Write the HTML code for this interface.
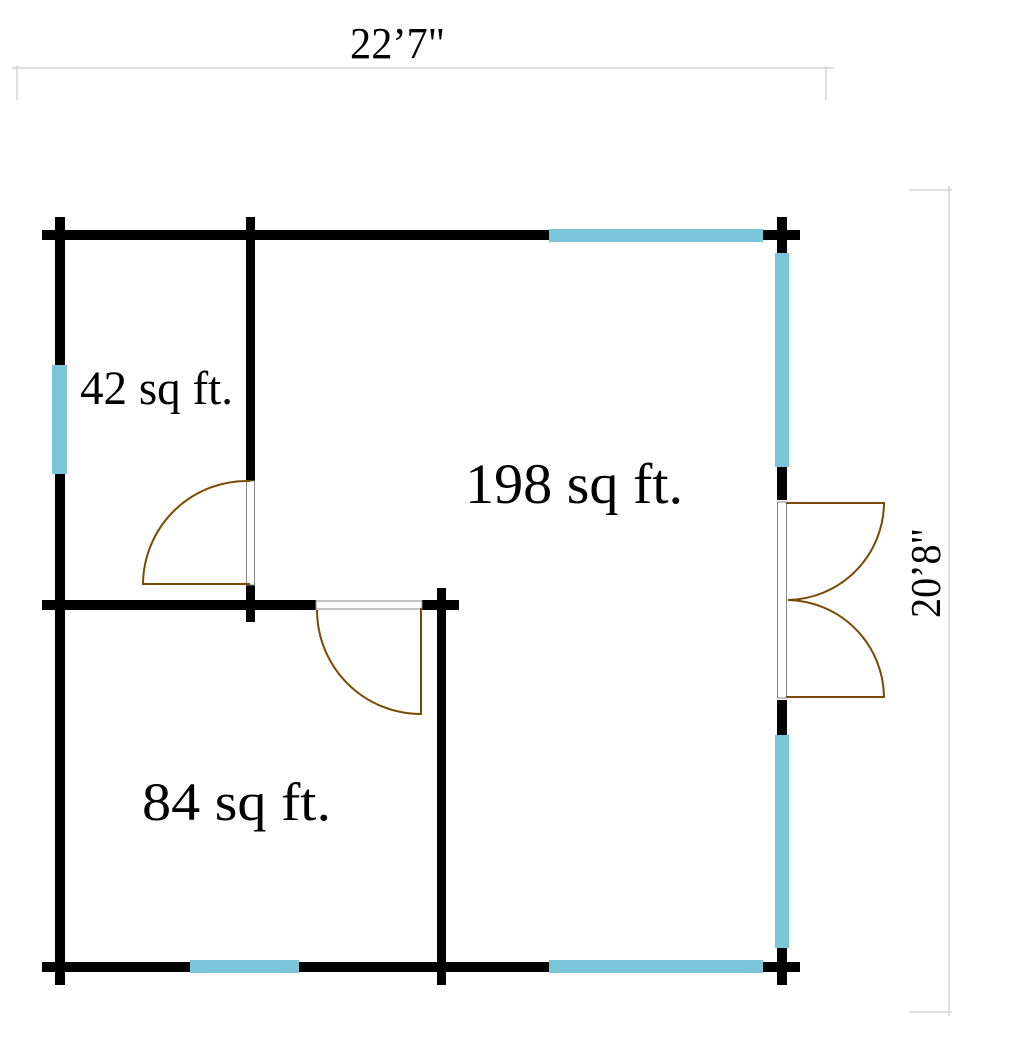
<!DOCTYPE html>
<html><head><style>body{margin:0;background:#fff}svg{display:block}</style></head>
<body>
<svg width="1024" height="1048" viewBox="0 0 1024 1048" xmlns="http://www.w3.org/2000/svg" font-family="Liberation Serif, serif">
<!-- dimensions -->
<g stroke="#ccc" stroke-width="1.2" fill="none">
<line x1="12" y1="68" x2="834" y2="68"/>
<line x1="17" y1="66" x2="17" y2="100"/>
<line x1="826" y1="66" x2="826" y2="100"/>
<line x1="909" y1="190" x2="952" y2="190"/>
<line x1="949" y1="186" x2="949" y2="1016"/>
<line x1="909" y1="1012" x2="952" y2="1012"/>
</g>
<text x="350" y="58" font-size="44" textLength="95" lengthAdjust="spacingAndGlyphs">22’7"</text>
<text transform="translate(940,618) rotate(-90)" font-size="42" textLength="90" lengthAdjust="spacingAndGlyphs">20’8"</text>
<!-- walls -->
<g fill="#000">
<rect x="42" y="230" width="758" height="10"/>
<rect x="55" y="217" width="10" height="768"/>
<rect x="42" y="962" width="758" height="10"/>
<rect x="777" y="217" width="10" height="283"/>
<rect x="777" y="700" width="10" height="285"/>
<rect x="246" y="217" width="9" height="264"/>
<rect x="246" y="585" width="9" height="37"/>
<rect x="42" y="600" width="274" height="10"/>
<rect x="422" y="600" width="37" height="10"/>
<rect x="437" y="588" width="9" height="397"/>
</g>
<!-- windows -->
<g fill="#7ac5d8">
<rect x="549" y="229" width="214" height="13"/>
<rect x="775" y="253" width="14" height="214"/>
<rect x="775" y="735" width="14" height="213"/>
<rect x="190" y="960" width="109" height="13"/>
<rect x="549" y="960" width="214" height="13"/>
<rect x="52" y="365" width="15" height="109"/>
</g>
<!-- door frames -->
<g fill="#fff" stroke="#888" stroke-width="1">
<rect x="246.5" y="481" width="8" height="104"/>
<rect x="316" y="601" width="106" height="8"/>
<rect x="777.5" y="502" width="9" height="196"/>
</g>
<g fill="none" stroke="#7a4a00" stroke-width="2">
<path d="M250 481 A104 104 0 0 0 143 584 L250 584"/>
<path d="M317 610 A104 104 0 0 0 421 714 L421 608"/>
<path d="M786 503 L884 503 A98 98 0 0 1 788 600"/>
<path d="M788 600 A98 98 0 0 1 884 697 L786 697"/>
</g>
<!-- labels -->
<text x="80" y="404" font-size="48" textLength="153" lengthAdjust="spacingAndGlyphs">42 sq ft.</text>
<text x="465" y="503" font-size="57" textLength="218" lengthAdjust="spacingAndGlyphs">198 sq ft.</text>
<text x="142" y="820" font-size="54" textLength="189" lengthAdjust="spacingAndGlyphs">84 sq ft.</text>
</svg>
</body></html>
